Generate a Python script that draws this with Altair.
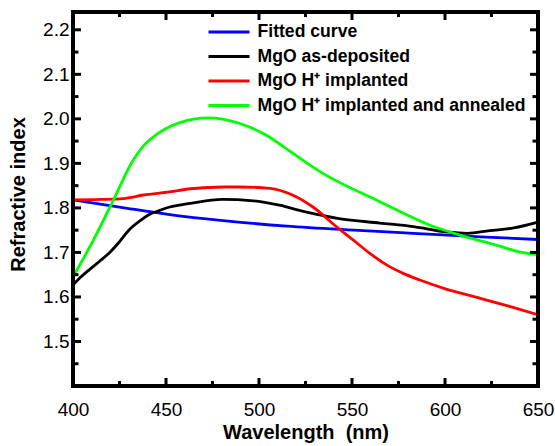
import altair as alt
import pandas as pd

# Refractive index dispersion of MgO films (wavelength in nm)
wl_fit = [400, 425, 452, 482, 515, 551, 583, 619, 650]
n_fit = [1.818, 1.802, 1.785, 1.771, 1.759, 1.750, 1.743, 1.735, 1.729]

wl_dep = [400, 403.5, 409, 414, 420, 425, 430, 436, 441, 447, 452, 457, 463, 480,
          497, 511, 525, 543, 565, 583, 601, 612, 624, 637, 650]
n_dep = [1.627, 1.642, 1.662, 1.679, 1.701, 1.724, 1.750, 1.771, 1.785, 1.795, 1.802,
         1.806, 1.810, 1.819, 1.816, 1.806, 1.791, 1.776, 1.766, 1.758, 1.746, 1.743,
         1.749, 1.755, 1.768]

wl_imp = [400, 415, 427, 438, 452, 463, 482, 490, 506, 518, 529, 541.6, 550.6, 559.6,
          568.6, 577.5, 586.5, 599, 619, 637, 650]
n_imp = [1.818, 1.819, 1.821, 1.829, 1.836, 1.843, 1.847, 1.847, 1.844, 1.829, 1.802,
         1.758, 1.728, 1.698, 1.672, 1.653, 1.638, 1.620, 1.597, 1.576, 1.560]

wl_ann = [400, 410, 422, 432, 438, 445, 457, 473, 490, 497, 504, 515, 533, 565, 592,
          608, 628, 640, 650]
n_ann = [1.645, 1.720, 1.820, 1.905, 1.940, 1.965, 1.991, 2.002, 1.989, 1.978, 1.963,
         1.932, 1.881, 1.814, 1.761, 1.739, 1.716, 1.701, 1.695]

series_names = ["Fitted curve", "MgO as-deposited", "MgO H\u207a implanted",
                "MgO H\u207a implanted and annealed"]
series_colors = ["#0000ff", "#000000", "#ff0000", "#00ff00"]

x_major = [400, 450, 500, 550, 600, 650]
x_minor = [425, 475, 525, 575, 625]
y_major = [1.5, 1.6, 1.7, 1.8, 1.9, 2.0, 2.1, 2.2]
y_minor = [1.45, 1.55, 1.65, 1.75, 1.85, 1.95, 2.05, 2.15]

FONT = "Liberation Sans, Arial, Helvetica, sans-serif"
W, H = 465, 374
INK = "#000000"

x_scale = alt.Scale(domain=[400, 650], nice=False, zero=False)
y_scale = alt.Scale(domain=[1.4, 2.24], nice=False, zero=False)
color_scale = alt.Scale(domain=series_names, range=series_colors)

axis_style = dict(
    grid=False, domain=False, ticks=False, labelFlush=False,
    labelFont=FONT, labelFontSize=19, labelColor=INK,
    titleFont=FONT, titleFontSize=20, titleFontWeight="bold", titleColor=INK,
    titleBaseline="alphabetic",
)

x_enc = alt.X(
    "wavelength:Q", scale=x_scale,
    axis=alt.Axis(values=x_major, format="d", title="Wavelength\u00a0 (nm)",
                  titleY=52, labelPadding=14, **axis_style),
)
y_enc = alt.Y(
    "n:Q", scale=y_scale,
    axis=alt.Axis(values=y_major, format=".1f", title="Refractive index",
                  titleX=-48.5, titleY=182, titleAlign="center", labelPadding=4,
                  **axis_style),
)

series_data = [
    (series_names[0], wl_fit, n_fit),
    (series_names[1], wl_dep, n_dep),
    (series_names[2], wl_imp, n_imp),
    (series_names[3], wl_ann, n_ann),
]

layers = []
for name, xs, ys in series_data:
    d = pd.DataFrame({"series": name, "wavelength": xs, "n": ys})
    layers.append(
        alt.Chart(d).mark_line(strokeWidth=2.8, interpolate="monotone").encode(
            x=x_enc, y=y_enc,
            color=alt.Color("series:N", scale=color_scale, legend=None),
        )
    )

# Inward tick marks on all four sides of the frame
def x_ticks(values, length):
    d = pd.DataFrame({"wavelength": values})
    base = alt.Chart(d).mark_rule(color=INK, strokeWidth=3)
    bottom = base.encode(x=x_enc, y=alt.value(H), y2=alt.value(H - length))
    top = base.encode(x=x_enc, y=alt.value(0), y2=alt.value(length))
    return [bottom, top]


def y_ticks(values, length):
    d = pd.DataFrame({"n": values})
    base = alt.Chart(d).mark_rule(color=INK, strokeWidth=3)
    left = base.encode(y=y_enc, x=alt.value(0), x2=alt.value(length))
    right = base.encode(y=y_enc, x=alt.value(W), x2=alt.value(W - length))
    return [left, right]


ticks = (x_ticks(x_major, 8) + x_ticks(x_minor, 5)
         + y_ticks(y_major, 8) + y_ticks(y_minor, 5.5))

# Plot frame
frame = alt.Chart(pd.DataFrame({"k": [0]})).mark_rect(
    filled=False, color=INK, strokeWidth=4
).encode(x=alt.value(0), x2=alt.value(W), y=alt.value(0), y2=alt.value(H))

# Legend rows in the upper part of the plot
legend_layers = []
for i, (name, col) in enumerate(zip(series_names, series_colors)):
    row_y = 20 + i * 24.5
    row = alt.Chart(pd.DataFrame({"series": [name]}))
    legend_layers.append(
        row.mark_rule(color=col, strokeWidth=2.8).encode(
            x=alt.value(135.5), x2=alt.value(176.5), y=alt.value(row_y))
    )
    legend_layers.append(
        row.mark_text(align="left", baseline="middle", font=FONT, fontSize=17.6,
                      fontWeight="bold", color=INK).encode(
            x=alt.value(184.5), y=alt.value(row_y), text="series:N")
    )

chart = alt.layer(*layers, *ticks, frame, *legend_layers).properties(
    width=W, height=H,
    autosize=alt.AutoSizeParams(type="none"),
    padding={"left": 73, "top": 12, "right": 17, "bottom": 60},
).configure_view(
    stroke="transparent",
)

chart.save("out.html", embed_options={"renderer": "svg", "actions": False})
